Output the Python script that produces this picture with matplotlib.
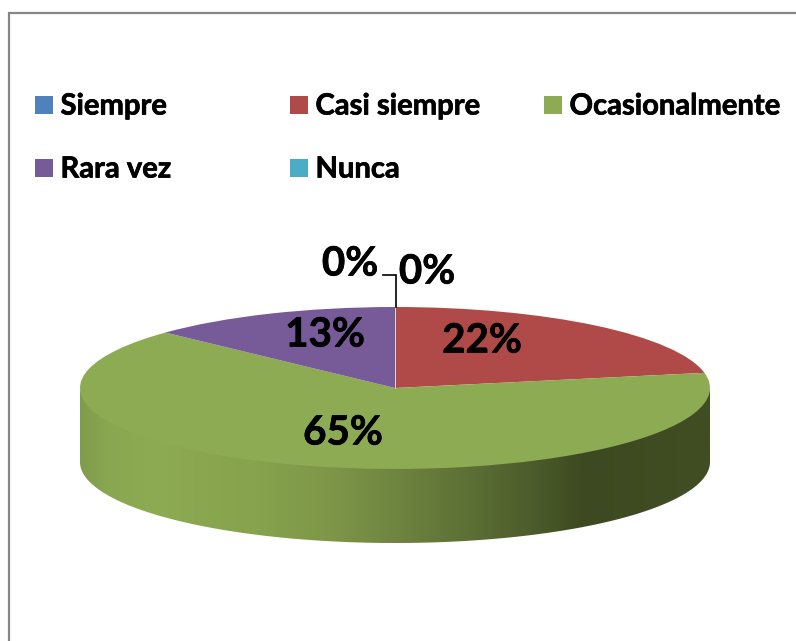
import numpy as np
import matplotlib
matplotlib.use("Agg")
import matplotlib.pyplot as plt
import matplotlib.patheffects as pe
from matplotlib.colors import LinearSegmentedColormap
from matplotlib.patches import Polygon, Rectangle

# datos
categorias = ["Siempre", "Casi siempre", "Ocasionalmente", "Rara vez", "Nunca"]
valores = [0, 22, 65, 13, 0]
colores = ["#4f81bd", "#b04a48", "#8dab52", "#775b99", "#4bacc6"]
etiquetas = ["0%", "22%", "65%", "13%", "0%"]

W, H = 796, 641
plt.rcParams["font.family"] = ["Lato", "DejaVu Sans"]
fig = plt.figure(figsize=(W / 100, H / 100), dpi=100)

# capa en pixeles para marco, leyenda y textos
bg = fig.add_axes([0, 0, 1, 1])
bg.set_xlim(0, W)
bg.set_ylim(H, 0)
bg.axis("off")

# marco (solo se ven arriba e izquierda)
bg.plot([9, 9, W], [H, 13, 13], color="#868686", lw=1.6, solid_joinstyle="miter")

# leyenda
grueso = [pe.withStroke(linewidth=0.5, foreground="black")]
ley_x = [35, 290, 544, 35, 290]
ley_y = [105, 105, 105, 168, 168]
for nombre, c, x, y in zip(categorias, colores, ley_x, ley_y):
    bg.add_patch(Rectangle((x, y - 9), 18, 18, facecolor=c, edgecolor="none"))
    bg.text(x + 25.5, y + 1.5, nombre, fontsize=21, fontweight="bold", color="black", va="center", ha="left",
            path_effects=grueso)

# pastel: elipse rx=315 ry=81 centrada en (395,388), pared de 74 px
cx, cy, rx, ry, prof = 395, 388, 315, 81, 74
ax = fig.add_axes([(cx - rx) / W, 1 - (cy + ry + prof) / H, 2 * rx / W, (2 * ry + prof) / H])
ax.patch.set_alpha(0)
wedges, _ = ax.pie(valores, colors=colores, startangle=90, counterclock=False, radius=1,
                   wedgeprops={"linewidth": 0})
for w in wedges:
    w.set_zorder(3)

d = prof / ry
t = np.radians(np.linspace(180, 360, 200))
pared_x = np.r_[np.cos(t), np.cos(t[::-1])]
pared_y = np.r_[np.sin(t) - d, np.sin(t[::-1]) + 0.02]
cmap = LinearSegmentedColormap.from_list("pared", [
    (0.0, "#7f9c4c"), (0.04, "#89a750"), (0.12, "#8dab52"), (0.28, "#86a34d"),
    (0.40, "#7d9648"), (0.50, "#6f8540"), (0.62, "#5c6f35"), (0.72, "#4c5c2b"),
    (0.80, "#3d4920"), (1.0, "#414e24"),
])
img = ax.imshow(np.linspace(0, 1, 512)[None, :], extent=[-1, 1, -1 - d, 1], cmap=cmap,
                aspect="auto", zorder=1, interpolation="bilinear")
clip = Polygon(np.c_[pared_x, pared_y], closed=True, transform=ax.transData, facecolor="none", edgecolor="none")
ax.add_patch(clip)
img.set_clip_path(clip)
ax.set_aspect("auto")
ax.set_xlim(-1, 1)
ax.set_ylim(-1 - d, 1)
ax.axis("off")

# linea clara entre rojo y morado
ax.plot([0, 0], [0, 1], color="#e6d5d5", lw=0.7, zorder=4)

# etiquetas de datos
bg.set_zorder(5)
et_x = [350, 482, 343, 325, 427]
et_y = [264, 341, 433, 335, 272]
for txt, x, y in zip(etiquetas, et_x, et_y):
    bg.text(x, y, txt, fontsize=29, fontweight="bold", color="black", ha="center", va="center",
            path_effects=grueso)

# guia de los 0%
bg.plot([383, 395.5, 395.5], [275, 275, 307], color="black", lw=1.2, solid_joinstyle="miter")

fig.savefig("out.png", dpi=100)
